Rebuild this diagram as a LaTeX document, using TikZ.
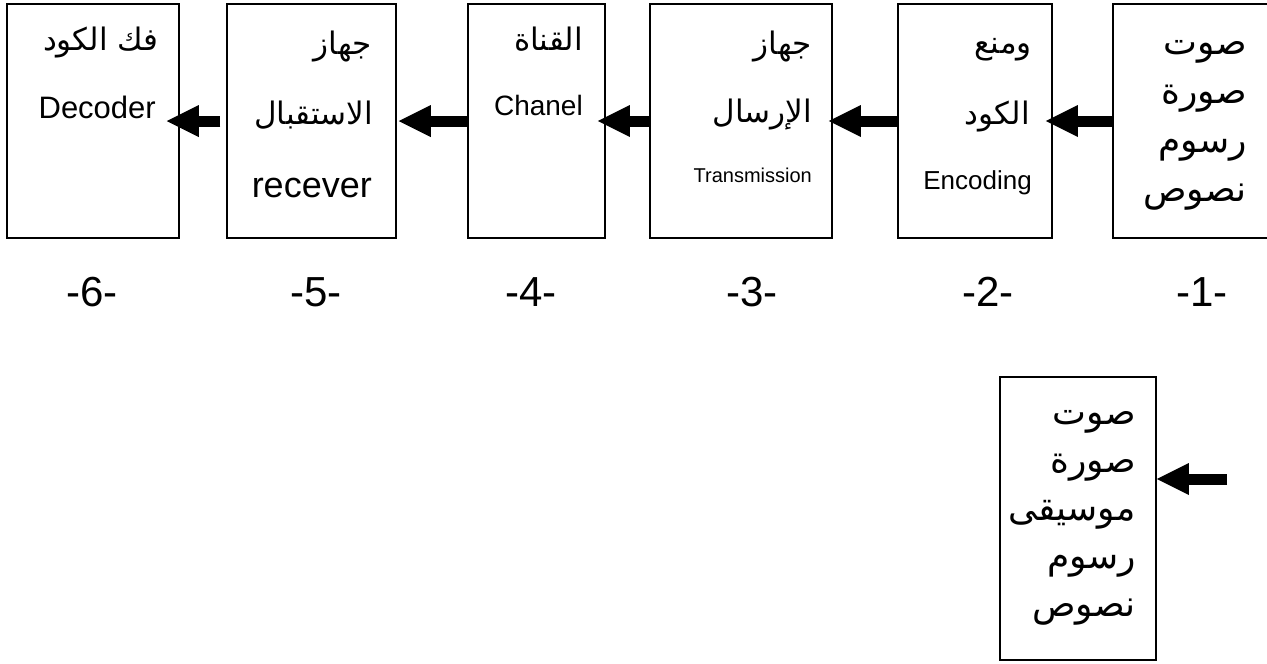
\documentclass[tikz,border=0pt]{standalone}
\usepackage{fontspec}
\setmainfont{Liberation Sans}
\newfontfamily\arabicfont[Script=Arabic]{DejaVu Sans}
\TeXXeTstate=1
\usetikzlibrary{arrows.meta}
\tikzset{
  box/.style={draw, line width=1.5pt, inner sep=0pt, minimum height=234pt},
  bigarrow/.style={line width=11pt, -{Triangle[length=32pt, width=32pt, line width=0pt]}},
  arbig/.style={anchor=base east, inner sep=0pt, font=\arabicfont\fontsize{36}{42}\selectfont},
  armid/.style={anchor=base east, inner sep=0pt, font=\arabicfont\fontsize{31}{36}\selectfont},
  lat/.style={anchor=base east, inner sep=0pt},
  num/.style={anchor=base, inner sep=0pt, font=\fontsize{42}{48}\selectfont}
}
\begin{document}
\begin{tikzpicture}[x=1pt, y=-1pt]
\useasboundingbox (0,0) rectangle (1267,664);
% boxes
\node[box, minimum width=172pt] (b6) at (93,121) {};
\node[box, minimum width=169pt] (b5) at (311.5,121) {};
\node[box, minimum width=137pt] (b4) at (536.5,121) {};
\node[box, minimum width=182pt] (b3) at (741,121) {};
\node[box, minimum width=154pt] (b2) at (975,121) {};
\node[box, minimum width=170pt] (b1) at (1198,121) {};
\node[box, minimum width=156pt, minimum height=283pt] (b0) at (1078,518.5) {};
% box 6
\node[armid] (t6a) at (159,50) {\beginR فك الكود\endR};
\node[lat, font=\fontsize{31}{36}\selectfont] (t6b) at (156,118) {Decoder};
% box 5
\node[armid] (t5a) at (372,54) {\beginR جهاز\endR};
\node[armid] (t5b) at (373,124) {\beginR الاستقبال\endR};
\node[lat, font=\fontsize{36}{42}\selectfont] (t5c) at (372,197) {recever};
% box 4
\node[armid] (t4a) at (583,50) {\beginR القناة\endR};
\node[lat, font=\fontsize{28}{32}\selectfont] (t4b) at (583,115) {Chanel};
% box 3
\node[armid] (t3a) at (812,54) {\beginR جهاز\endR};
\node[armid] (t3b) at (812,122) {\beginR الإرسال\endR};
\node[lat, font=\fontsize{20}{24}\selectfont] (t3c) at (812,182) {Transmission};
% box 2
\node[armid] (t2a) at (1032,53) {\beginR ومنع\endR};
\node[armid] (t2b) at (1030,124) {\beginR الكود\endR};
\node[lat, font=\fontsize{26}{30}\selectfont] (t2c) at (1032,189) {Encoding};
% box 1
\node[arbig] (t1a) at (1247,54) {\beginR صوت\endR};
\node[arbig] (t1b) at (1247,103) {\beginR صورة\endR};
\node[arbig] (t1c) at (1247,152) {\beginR رسوم\endR};
\node[arbig] (t1d) at (1247,201) {\beginR نصوص\endR};
% bottom box
\node[arbig] (t0a) at (1136,424) {\beginR صوت\endR};
\node[arbig] (t0b) at (1136,472) {\beginR صورة\endR};
\node[arbig] (t0c) at (1136,520) {\beginR موسيقى\endR};
\node[arbig] (t0d) at (1136,568) {\beginR رسوم\endR};
\node[arbig] (t0e) at (1136,616) {\beginR نصوص\endR};
% numbers
\node[num] (n6) at (92,306) {-6-};
\node[num] (n5) at (316,306) {-5-};
\node[num] (n4) at (531,306) {-4-};
\node[num] (n3) at (752,306) {-3-};
\node[num] (n2) at (988,306) {-2-};
\node[num] (n1) at (1202,306) {-1-};
% arrows
\draw[bigarrow] ([xshift=-6pt]b5.west) -- ([xshift=-13pt]b6.east);
\draw[bigarrow] (b4.west) -- ([xshift=2pt]b5.east);
\draw[bigarrow] (b3.west) -- ([xshift=-8pt]b4.east);
\draw[bigarrow] (b2.west) -- ([xshift=-4pt]b3.east);
\draw[bigarrow] (b1.west) -- ([xshift=-7pt]b2.east);
\coordinate (src) at (1227,479);
\draw[bigarrow] (src) -- (b0.east |- src);
\end{tikzpicture}
\end{document}
